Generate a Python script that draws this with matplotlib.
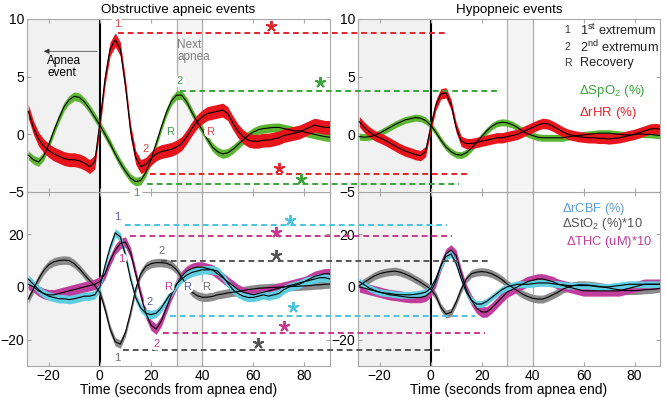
import numpy as np
import matplotlib
matplotlib.use("Agg")
import matplotlib.pyplot as plt

plt.rcParams['font.family'] = ['Liberation Sans', 'DejaVu Sans']
plt.rcParams['mathtext.fontset'] = 'custom'
plt.rcParams['mathtext.rm'] = 'Liberation Sans'
plt.rcParams['mathtext.it'] = 'Liberation Sans:italic'

# time axis (seconds from apnea end)
time = np.arange(-28, 91, 2)

# obstructive apnea, top panel
spo2_obs = [-1.8, -2.2, -2.4, -1.9, -0.9, 0.3, 1.4, 2.4, 3.0, 3.3,
            3.2, 2.8, 2.2, 1.5, 0.8, 0.0, -0.8, -1.7, -2.5, -3.2,
            -3.8, -4.1, -4.0, -3.3, -2.2, -0.8, 0.6, 1.9, 2.9, 3.4,
            3.4, 2.8, 1.9, 1.1, 0.4, -0.4, -1.1, -1.5, -1.7, -1.6,
            -1.3, -0.9, -0.5, -0.1, 0.2, 0.4, 0.5, 0.55, 0.6, 0.6,
            0.5, 0.4, 0.3, 0.3, 0.2, 0.1, 0.0, -0.1, -0.2, -0.25]
rhr_obs = [2.0, 0.6, -0.4, -1.0, -1.4, -1.7, -1.9, -2.1, -2.2, -2.2,
           -2.3, -2.5, -2.8, -2.4, 1.0, 4.8, 7.4, 8.2, 7.4, 4.2,
           0.3, -2.0, -2.8, -2.6, -2.1, -1.7, -1.5, -1.4, -1.3, -1.1,
           -0.8, -0.2, 0.5, 1.1, 1.5, 1.8, 1.9, 2.0, 2.1, 1.8,
           1.0, 0.3, -0.2, -0.5, -0.6, -0.6, -0.5, -0.5, -0.4, -0.3,
           -0.1, 0.0, 0.1, 0.2, 0.4, 0.6, 0.8, 0.7, 0.6, 0.6]

# hypopnea, top panel
spo2_hyp = [-0.2, -0.25, -0.2, -0.1, 0.1, 0.35, 0.6, 0.85, 1.05, 1.25,
            1.35, 1.45, 1.4, 1.2, 0.8, 0.2, -0.5, -1.1, -1.5, -1.75,
            -1.8, -1.6, -1.2, -0.7, -0.2, 0.3, 0.7, 0.95, 1.05, 1.0,
            0.85, 0.6, 0.3, 0.05, -0.1, -0.25, -0.3, -0.3, -0.3, -0.3,
            -0.3, -0.2, -0.15, -0.1, -0.05, 0.0, 0.05, 0.1, 0.1, 0.1,
            0.05, 0.0, -0.05, -0.05, 0.0, 0.05, 0.0, 0.0, -0.05, -0.1]
rhr_hyp = [1.1, 0.6, 0.2, -0.1, -0.3, -0.5, -0.75, -1.0, -1.25, -1.45,
           -1.6, -1.75, -1.85, -1.5, 0.6, 2.5, 3.5, 3.6, 2.6, 0.6,
           -0.6, -0.8, -0.8, -0.7, -0.6, -0.5, -0.4, -0.3, -0.3, -0.2,
           -0.1, 0.0, 0.2, 0.4, 0.6, 0.8, 0.95, 0.9, 0.7, 0.45,
           0.2, 0.0, -0.1, -0.2, -0.25, -0.3, -0.3, -0.35, -0.35, -0.4,
           -0.35, -0.3, -0.2, -0.1, 0.0, 0.15, 0.3, 0.45, 0.5, 0.45]

# obstructive apnea, bottom panel
sto2_obs = [-4.6, -0.8, 3.0, 6.2, 8.4, 9.5, 10.0, 10.2, 10.0, 8.8,
            6.9, 4.6, 2.4, 0.5, -2.0, -8.4, -16.0, -20.8, -21.7, -17.3,
            -9.7, -0.8, 5.0, 7.8, 8.8, 9.2, 9.2, 9.0, 8.2, 6.5,
            3.7, 0.5, -2.0, -3.3, -3.9, -3.9, -3.6, -3.0, -2.7, -2.3,
            -2.0, -1.8, -1.4, -1.0, -0.8, -0.5, -0.4, -0.3, -0.2, -0.1,
            0.0, 0.1, 0.2, 0.3, 0.4, 0.5, 0.7, 0.8, 1.0, 1.1]
thc_obs = [1, 0, -1.5, -2.5, -3, -3, -2.5, -2, -1.5, -1,
           -0.5, 0, 0.5, 1, 2, 5, 10, 14, 16.5, 17,
           13, 5, -3, -10, -14.5, -16, -13, -8, -3, 1,
           4, 6, 7, 7.5, 7.5, 7, 6.5, 5, 3.5, 2,
           0.5, -1, -2, -2.5, -3, -2.5, -2, -1.5, -1, -0.5,
           0, 0.5, 1, 1.5, 2, 3, 4, 4.5, 5, 5]
rcbf_obs = [3, 1, -1, -2.5, -3.5, -4, -4.5, -4.5, -4.8, -4.5,
            -4, -3.5, -3.5, -3, 0, 8, 15, 20.5, 19, 12,
            3, -4, -8, -10, -10.5, -10, -8, -5, -2, 1,
            3, 4.5, 5.5, 6, 6.5, 6.5, 6.5, 6, 4, 1.5,
            -1, -2.5, -3.5, -4, -4, -3.5, -3, -3.5, -3, -2.5,
            -1, 0, 0.5, 1, 2, 2.5, 3, 3.5, 3.5, 3]

# hypopnea, bottom panel
sto2_hyp = [0.5, 1.8, 3.0, 4.2, 5.0, 5.5, 5.8, 6.0, 5.6, 4.9,
            4.0, 2.9, 1.8, 0.5, -0.8, -3.3, -7.7, -10.3, -9.7, -5.8,
            -0.8, 3.0, 5.0, 5.6, 5.8, 5.6, 5.0, 4.0, 2.8, 1.1,
            -0.1, -1.4, -2.7, -3.6, -4.3, -4.6, -4.6, -3.9, -3.0, -2.0,
            -0.8, -0.1, 0.5, 0.8, 0.8, 0.7, 0.5, 0.2, -0.1, -0.4,
            -0.8, -1.1, -1.4, -1.4, -1.4, -1.3, -1.1, -1.0, -0.8, -0.5]
thc_hyp = [0, -0.5, -1, -1.5, -2, -2.5, -3, -3.2, -3.5, -3.8,
           -4, -4, -4, -3.5, -2, 2, 8, 12.5, 14, 12,
           5, -1, -5, -8, -9.5, -9.5, -8, -6, -4, -2,
           -1, 0, 1, 2, 2.5, 3, 3, 2.5, 2, 1,
           0.5, 0, -0.5, -1, -1.5, -1.5, -1.5, -1.5, -1.5, -1.5,
           -1.5, -1.5, -1, -0.5, 0, 0.5, 1, 1, 1, 1]
rcbf_hyp = [2, 0.8, -0.5, -1.3, -2, -2.3, -2.5, -2.8, -3, -3,
            -3, -2.8, -2.5, -2, -0.5, 3, 8, 11.5, 12.5, 9,
            3, -2, -5, -6.5, -6.5, -5.5, -4, -2.5, -1, 0,
            0.5, 1, 1, 1, 1.2, 1.5, 1.5, 1.5, 1.2, 1,
            0.8, 0.5, 0.5, 0.5, 0.5, 0.5, 0.3, 0, 0, 0,
            0.3, 0.5, 0.8, 1, 1, 1, 1, 1, 1, 1]

GREEN = '#5cb531'
RED = '#e8141c'
GRAY = '#8a8a8a'
MAGENTA = '#c13d9b'
CYAN = '#5fcde0'

# significance lines: y, x start, x end, colour, star x, star y
top_sig = [(8.8, 7.1, 135.7, '#e0262d', 67.0, 9.4),
           (3.8, 31.3, 157.0, '#3aa43a', 86.2, 4.5),
           (-3.4, 19.6, 143.5, '#e0262d', 70.2, -2.9),
           (-4.3, 18.4, 140.3, '#3aa43a', 78.7, -3.9)]
bot_sig = [(23.4, 9.9, 135.7, '#4cc3dc', 74.5, 25.3),
           (19.4, 11.8, 137.6, '#c8378f', 68.7, 20.8),
           (9.9, 24.1, 152.9, '#555555', 68.7, 12.2),
           (-11.0, 27.4, 146.8, '#4cc3dc', 75.4, -7.7),
           (-17.3, 24.8, 150.8, '#c8378f', 72.2, -14.7),
           (-23.9, 9.1, 134.5, '#555555', 61.8, -21.3)]

# extremum / recovery labels: text, x, y, colour
top_marks = [('1', 6.6, 9.6, '#d84a4a'), ('2', 17.7, -1.3, '#d84a4a'),
             ('R', 43.2, 0.2, '#d84a4a'), ('2', 31.3, 4.6, '#3a9a4a'),
             ('R', 27.4, 0.2, '#3a9a4a'), ('1', 14.2, -5.1, '#3a9a4a')]
bot_marks = [('1', 6.7, 26.5, '#5a5fa8'), ('1', 8.2, 10.7, '#c13d9b'),
             ('2', 19.6, -5.8, '#5a5fa8'), ('2', 22.0, -21.7, '#c13d9b'),
             ('2', 24.1, 13.8, '#707070'), ('1', 6.6, -26.8, '#707070'),
             ('R', 26.7, -0.1, '#c13d9b'), ('R', 34.3, -0.1, '#5a5fa8'),
             ('R', 41.7, -0.1, '#707070')]

W, H = 666, 398
fig = plt.figure(figsize=(W / 100, H / 100), dpi=100)
axTL = fig.add_axes([27 / W, 1 - 192 / H, 303 / W, 173 / H])
axBL = fig.add_axes([27 / W, 1 - 366 / H, 303 / W, 174 / H])
axTR = fig.add_axes([358 / W, 1 - 192 / H, 302 / W, 173 / H])
axBR = fig.add_axes([358 / W, 1 - 366 / H, 302 / W, 174 / H])
axTL.set_zorder(4)
axBL.set_zorder(3)
axTR.set_zorder(2)
axBR.set_zorder(1)


def setup(ax, ylim, yticks, bottom):
    ax.set_xlim(-28.5, 90)
    ax.set_ylim(*ylim)
    ax.set_yticks(yticks)
    ax.set_xticks([-20, 0, 20, 40, 60, 80])
    ax.axvspan(-40, 0, color='#f1f1f1', zorder=0)
    ax.axvspan(30, 40, color='#f5f5f5', zorder=0)
    ax.axvline(0, color='k', lw=1.5, zorder=1)
    ax.axvline(30, color='#b0b0b0', lw=0.9, zorder=1)
    ax.axvline(40, color='#b0b0b0', lw=0.9, zorder=1)
    for s in ax.spines.values():
        s.set_color('#a8a8a8')
    ax.tick_params(direction='in', length=3, color='#a8a8a8', labelsize=10,
                   top=True, right=True, pad=2)
    if bottom:
        ax.set_xlabel('Time (seconds from apnea end)', fontsize=10, labelpad=0)
    else:
        ax.tick_params(labelbottom=False)


def band(ax, y, color, hw):
    y = np.asarray(y, dtype=float)
    ax.fill_between(time, y - hw, y + hw, color=color, lw=0, zorder=2)


def sig_lines(ax, rows, ms):
    for y, x0, x1, c, sx, sy in rows:
        ax.plot([x0, x1], [y, y], color=c, lw=1.4, ls=(0, (3, 2)),
                clip_on=False, zorder=5)
        ax.plot(sx, sy, marker=(5, 2, 0), color=c, ms=ms, mew=1.4,
                clip_on=False, zorder=6)


def marks(ax, rows):
    for t, x, y, c in rows:
        ax.text(x, y, t, color=c, fontsize=8, ha='center', va='center',
                zorder=7, clip_on=False,
                bbox=dict(boxstyle='circle,pad=0.12', fc='white', ec='none'))


setup(axTL, (-5, 10), [-5, 0, 5, 10], False)
setup(axTR, (-5, 10), [-5, 0, 5, 10], False)
setup(axBL, (-30, 36), [-20, 0, 20], True)
setup(axBR, (-30, 36), [-20, 0, 20], True)

# top panels
for ax, g, r, hwg, hwr in [(axTL, spo2_obs, rhr_obs, 0.38, 0.6),
                           (axTR, spo2_hyp, rhr_hyp, 0.3, 0.45)]:
    band(ax, g, GREEN, hwg)
    band(ax, r, RED, hwr)
    ax.plot(time, g, color='k', lw=0.8, zorder=3)
    ax.plot(time, r, color='k', lw=0.8, zorder=3)

# bottom panels
for ax, s, m, c, hws, hwm, hwc in [(axBL, sto2_obs, thc_obs, rcbf_obs, 1.6, 2.0, 1.6),
                                   (axBR, sto2_hyp, thc_hyp, rcbf_hyp, 1.5, 2.0, 1.3)]:
    band(ax, s, GRAY, hws)
    band(ax, m, MAGENTA, hwm)
    band(ax, c, CYAN, hwc)
    for y in (s, m, c):
        ax.plot(time, y, color='k', lw=0.8, zorder=3)

sig_lines(axTL, top_sig, 8)
sig_lines(axBL, bot_sig, 8)
marks(axTL, top_marks)
marks(axBL, bot_marks)

axTL.set_title('Obstructive apneic events', fontsize=9.6, pad=4)
axTR.set_title('Hypopneic events', fontsize=9.6, pad=4)

# apnea event arrow and next apnea label
axTL.annotate('', xy=(-23, 7.2), xytext=(0, 7.2),
              arrowprops=dict(arrowstyle='-|>', color='#333333', lw=0.5,
                              mutation_scale=8), zorder=6)
axTL.text(-20.5, 6.9, 'Apnea\nevent', fontsize=8.5, ha='left', va='top',
          linespacing=1.0, zorder=6)
axTL.text(30.3, 8.3, 'Next\napnea', fontsize=8.5, ha='left', va='top',
          color='#808080', linespacing=1.0, zorder=6)

# legend-like labels
for t, lab, y in [('1', r'1$^{\rm st}$ extremum', 9.05),
                  ('2', r'2$^{\rm nd}$ extremum', 7.6),
                  ('R', 'Recovery', 6.2)]:
    axTR.text(53.7, y, t, fontsize=7.5, ha='center', va='center', color='#333333',
              bbox=dict(boxstyle='circle,pad=0.12', fc='white', ec='none'))
    axTR.text(58.5, y, lab, fontsize=9.2, ha='left', va='center', color='#222222')
axTR.text(58.3, 3.8, r'$\Delta$SpO$_2$ (%)', fontsize=9.5, color='#3aa43a',
          ha='left', va='center')
axTR.text(58.3, 1.85, r'$\Delta$rHR (%)', fontsize=9.5, color='#e0262d',
          ha='left', va='center')
axBR.text(51.5, 29.6, r'$\Delta$rCBF (%)', fontsize=9.3, color='#5b9bd5',
          ha='left', va='center')
axBR.text(51.5, 23.9, r'$\Delta$StO$_2$ (%)*10', fontsize=9.3, color='#555555',
          ha='left', va='center')
axBR.text(53.0, 17.0, r'$\Delta$THC (uM)*10', fontsize=9.3, color='#c13d9b',
          ha='left', va='center')

fig.savefig('out.png', dpi=100)
